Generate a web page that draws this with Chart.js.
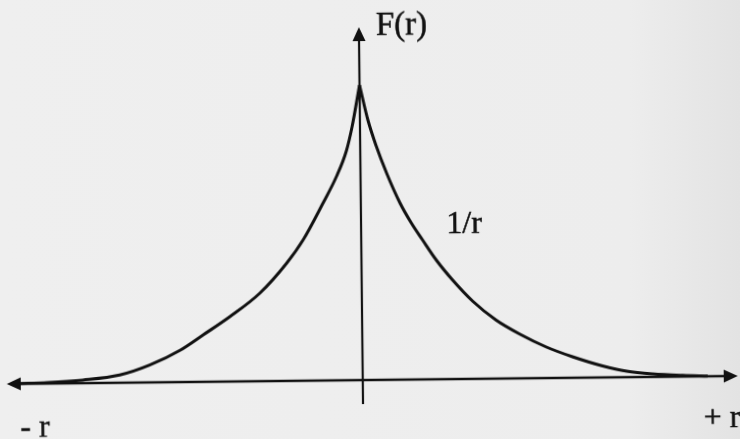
<!DOCTYPE html>
<html>
<head>
<meta charset="utf-8">
<script src="https://cdn.jsdelivr.net/npm/chart.js@4.4.1/dist/chart.umd.min.js"></script>
<style>
  html, body { margin: 0; padding: 0; width: 740px; height: 439px; overflow: hidden;
    background: linear-gradient(to right, #efefef 0%, #ededed 85%, #e3e3e3 100%); }
  #wrap { width: 740px; height: 439px; transform: rotate(-0.63deg); transform-origin: 370px 219.5px; }
  canvas { display: block; }
</style>
</head>
<body>
<div id="wrap"><canvas id="c" width="740" height="439"></canvas></div>
<script>
// Left branch of F(r): from the negative tail up to the peak at r = 0
const leftR = [-34.5, -31.5, -28.0, -24.3, -21.3, -18.2, -15.9, -13.2, -10.2, -7.5, -5.8, -3.8, -2.4, -1.4, -0.8, 0];
const leftF = [0.03, 0.1, 0.31, 0.77, 1.73, 3.2, 4.7, 6.5, 8.8, 11.75, 14.1, 17.7, 20.4, 22.9, 25.3, 29.5];

// Right branch: the 1/r fall-off from the peak to the positive tail
const rightR = [0, 0.8, 1.6, 2.6, 3.9, 5.0, 6.1, 7.5, 9.1, 11.1, 13.4, 15.8, 18.4, 21.0, 24.0, 26.4, 29.0, 32.0, 34.5];
const rightF = [29.5, 26.0, 23.4, 20.7, 17.7, 15.7, 14.0, 11.9, 9.9, 7.75, 5.85, 4.4, 3.1, 2.1, 1.15, 0.6, 0.3, 0.12, 0.03];

// Axis extents (arrow tips sit at the ends)
const rRange = [-35.6, 37.5];
const fRange = [-2.4, 35.3];

// Label texts
const labelTexts = { fAxis: 'F(r)', curve: '1/r', neg: '- r', pos: '+ r' };

// Where each label is anchored (left edge, baseline), in axis units
const labelAnchors = {
  fAxis: [1.7, 34.5],
  curve: [8.53, 14.58],
  neg: [-34.3, -5.29],
  pos: [34.05, -5.05]
};
const labelSizes = { fAxis: 33, curve: 32, neg: 32, pos: 32 };

const INK = '#111111';
const toPoints = (xs, ys) => xs.map((x, i) => ({ x, y: ys[i] }));

function arrowHead(ctx, tx, ty, dx, dy) {
  const len = 14, half = 6.5;
  const bx = tx - dx * len, by = ty - dy * len;
  ctx.beginPath();
  ctx.moveTo(tx, ty);
  ctx.lineTo(bx - dy * half, by + dx * half);
  ctx.lineTo(bx + dy * half, by - dx * half);
  ctx.closePath();
  ctx.fill();
}

const axesWithArrows = {
  id: 'axesWithArrows',
  beforeDatasetsDraw(chart) {
    const { ctx, scales: { x, y } } = chart;
    const x0 = x.getPixelForValue(0), y0 = y.getPixelForValue(0);
    const xl = x.getPixelForValue(rRange[0]), xr = x.getPixelForValue(rRange[1]);
    const yt = y.getPixelForValue(fRange[1]), yb = y.getPixelForValue(fRange[0]);
    ctx.save();
    ctx.strokeStyle = INK;
    ctx.fillStyle = INK;
    ctx.lineWidth = 2.6;
    ctx.beginPath();
    ctx.moveTo(xl + 8, y0); ctx.lineTo(xr - 8, y0);
    ctx.stroke();
    ctx.lineWidth = 2.2;
    ctx.beginPath();
    ctx.moveTo(x0, yb); ctx.lineTo(x0, yt + 8);
    ctx.stroke();
    arrowHead(ctx, xl, y0, -1, 0);
    arrowHead(ctx, xr, y0, 1, 0);
    arrowHead(ctx, x0, yt, 0, -1);
    ctx.restore();
  },
  afterDatasetsDraw(chart) {
    const { ctx, scales: { x, y } } = chart;
    ctx.save();
    ctx.fillStyle = INK;
    ctx.strokeStyle = INK;
    ctx.lineWidth = 0.5;
    ctx.textAlign = 'left';
    ctx.textBaseline = 'alphabetic';
    for (const key of Object.keys(labelTexts)) {
      const [r, f] = labelAnchors[key];
      const px = x.getPixelForValue(r), py = y.getPixelForValue(f);
      ctx.font = labelSizes[key] + 'px "Liberation Serif", "DejaVu Serif", serif';
      ctx.fillText(labelTexts[key], px, py);
      ctx.strokeText(labelTexts[key], px, py);
    }
    ctx.restore();
  }
};

new Chart(document.getElementById('c'), {
  type: 'line',
  data: {
    datasets: [
      { data: toPoints(leftR, leftF) },
      { data: toPoints(rightR, rightF) }
    ]
  },
  options: {
    responsive: false,
    animation: false,
    devicePixelRatio: 1,
    layout: { padding: { left: 5, right: 4, top: 27, bottom: 35 } },
    scales: {
      x: { type: 'linear', min: rRange[0], max: rRange[1], display: false },
      y: { type: 'linear', min: fRange[0], max: fRange[1], display: false }
    },
    elements: {
      point: { radius: 0 },
      line: { borderColor: INK, borderWidth: 3, cubicInterpolationMode: 'monotone', fill: false }
    },
    plugins: { legend: { display: false }, tooltip: { enabled: false } }
  },
  plugins: [axesWithArrows]
});
</script>
</body>
</html>
